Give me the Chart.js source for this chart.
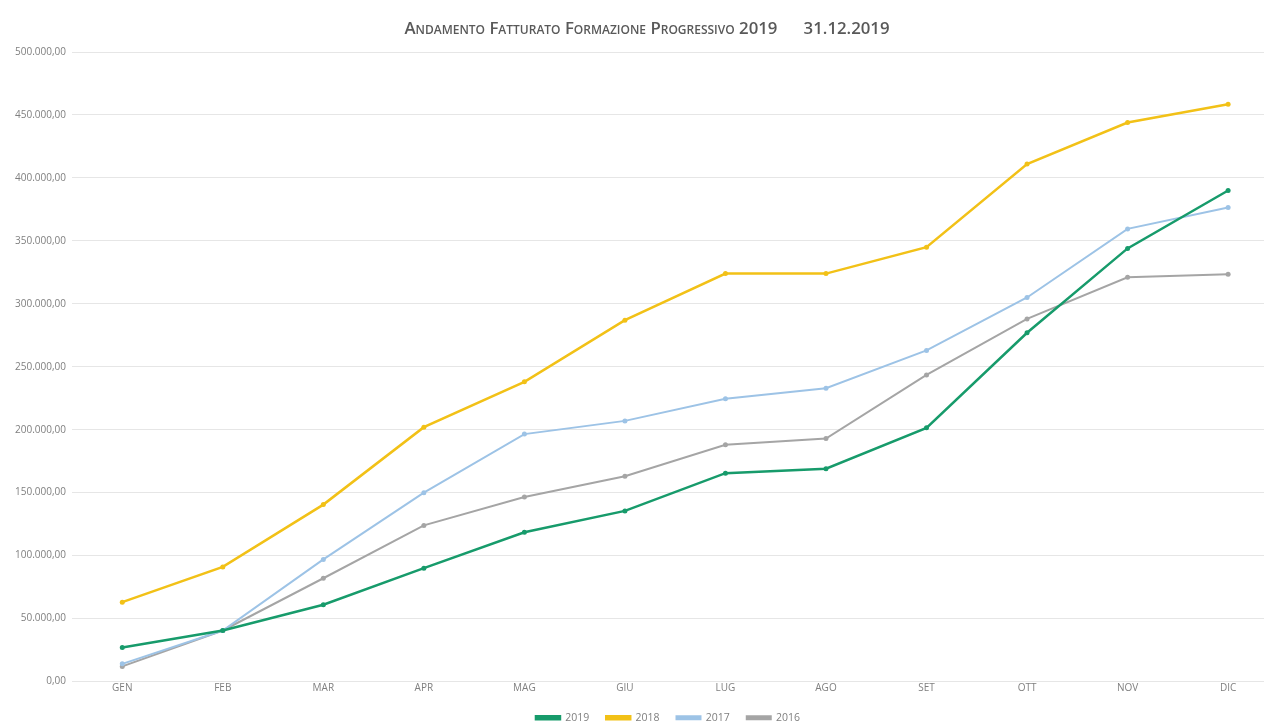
<!DOCTYPE html>
<html>
<head>
<meta charset="utf-8">
<script src="https://cdn.jsdelivr.net/npm/chart.js@4/dist/chart.umd.min.js"></script>
<style>
  html, body { margin: 0; padding: 0; background: #fff; overflow: hidden; }
  #wrap { position: relative; width: 1268px; height: 724px; overflow: hidden; }
  #title {
    position: absolute; left: 0; top: 16px; width: 1294px; text-align: center;
    font-family: "Open Sans", sans-serif; font-variant: small-caps; font-weight: 600;
    font-size: 16.8px; color: #595959; white-space: pre;
  }
</style>
</head>
<body>
<div id="wrap">
  <div id="title">Andamento Fatturato Formazione Progressivo 2019      31.12.2019</div>
  <canvas id="chart" width="1268" height="733"></canvas>
</div>
<script>
// months on the x axis
const months = ['GEN', 'FEB', 'MAR', 'APR', 'MAG', 'GIU', 'LUG', 'AGO', 'SET', 'OTT', 'NOV', 'DIC'];

// progressive turnover per year
const values2019 = [27000, 40500, 61000, 90000, 118500, 135500, 165500, 169000, 201500, 277000, 344000, 390000];
const values2018 = [63000, 91000, 140500, 202000, 238000, 287000, 324000, 324000, 345000, 411000, 444000, 458500];
const values2017 = [14000, 40500, 97000, 150000, 196500, 207000, 224500, 233000, 263000, 305000, 359500, 376500];
const values2016 = [12000, 40500, 82000, 124000, 146500, 163000, 188000, 193000, 243500, 288000, 321000, 323500];

const yTicks = [0, 50000, 100000, 150000, 200000, 250000, 300000, 350000, 400000, 450000, 500000];

function toPoints(values) {
  return values.map((v, i) => ({ x: i, y: v }));
}

function formatEuro(v) {
  return v.toLocaleString('it-IT', { minimumFractionDigits: 2, maximumFractionDigits: 2 });
}

function makeSeries(label, values, color, width) {
  return {
    label: label,
    data: toPoints(values),
    borderColor: color,
    backgroundColor: color,
    borderWidth: width,
    pointRadius: 2.5,
    pointBorderWidth: 0,
    pointBackgroundColor: color,
    tension: 0
  };
}

const tickFont = { family: '"Open Sans", sans-serif', size: 10 };

new Chart(document.getElementById('chart').getContext('2d'), {
  type: 'line',
  data: {
    datasets: [
      makeSeries('2019', values2019, '#179b6b', 2.5),
      makeSeries('2018', values2018, '#f2c117', 2.5),
      makeSeries('2017', values2017, '#9dc3e6', 2),
      makeSeries('2016', values2016, '#a5a5a5', 2)
    ]
  },
  options: {
    responsive: false,
    animation: false,
    layout: { padding: { top: 52, right: 0, left: 0, bottom: 0 } },
    scales: {
      x: {
        type: 'linear',
        min: -0.5,
        max: 11.357,
        afterBuildTicks: scale => { scale.ticks = months.map((m, i) => ({ value: i })); },
        grid: { display: false, drawTicks: false },
        border: { display: false },
        ticks: {
          color: '#7f7f7f',
          font: tickFont,
          padding: 1,
          maxRotation: 0,
          callback: v => months[v]
        }
      },
      y: {
        min: 0,
        max: 500000,
        afterBuildTicks: scale => { scale.ticks = yTicks.map(v => ({ value: v })); },
        afterFit: scale => { scale.width = 72; },
        grid: { color: '#e6e6e6', lineWidth: 1, drawTicks: false },
        border: { display: false },
        ticks: {
          color: '#7f7f7f',
          font: tickFont,
          padding: 6,
          callback: v => formatEuro(v)
        }
      }
    },
    plugins: {
      title: { display: false },
      tooltip: { enabled: false },
      legend: {
        position: 'bottom',
        fullSize: false,
        labels: {
          color: '#7f7f7f',
          font: { family: '"Open Sans", sans-serif', size: 10.5 },
          boxWidth: 24,
          boxHeight: 3,
          padding: 17
        }
      }
    }
  }
});
</script>
</body>
</html>
